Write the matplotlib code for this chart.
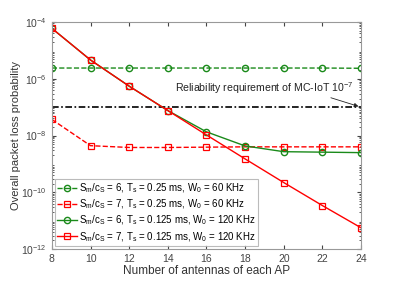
import numpy as np
import matplotlib
matplotlib.use('Agg')
import matplotlib.pyplot as plt

# 数据
antennas = [8, 10, 12, 14, 16, 18, 20, 22, 24]
loss_6_025 = [2.4e-6, 2.4e-6, 2.4e-6, 2.4e-6, 2.4e-6, 2.4e-6, 2.4e-6, 2.4e-6, 2.35e-6]
loss_7_025 = [3.7e-8, 4.4e-9, 3.8e-9, 3.8e-9, 3.9e-9, 4.0e-9, 4.0e-9, 4.0e-9, 4.0e-9]
loss_6_0125 = [6.0e-5, 4.6e-6, 5.5e-7, 7.6e-8, 1.35e-8, 4.3e-9, 2.7e-9, 2.6e-9, 2.5e-9]
loss_7_0125 = [6.0e-5, 4.6e-6, 5.5e-7, 7.6e-8, 1.05e-8, 1.5e-9, 2.2e-10, 3.4e-11, 5.6e-12]
requirement = 1e-7
labels = [
    r'$\mathregular{S_m/c_S}$ = 6, $\mathregular{T_s}$ = 0.25 ms, $\mathregular{W_0}$ = 60 KHz',
    r'$\mathregular{S_m/c_S}$ = 7, $\mathregular{T_s}$ = 0.25 ms, $\mathregular{W_0}$ = 60 KHz',
    r'$\mathregular{S_m/c_S}$ = 6, $\mathregular{T_s}$ = 0.125 ms, $\mathregular{W_0}$ = 120 KHz',
    r'$\mathregular{S_m/c_S}$ = 7, $\mathregular{T_s}$ = 0.125 ms, $\mathregular{W_0}$ = 120 KHz',
]

plt.rcParams['font.family'] = ['Liberation Sans', 'DejaVu Sans']
green = '#1a8a1a'
red = '#ff0000'

fig = plt.figure(figsize=(3.99, 2.83), dpi=100)
ax = fig.add_axes([0.130, 0.12, 0.775, 0.802])

ax.plot(antennas, [requirement] * len(antennas), color='black', linestyle=(0, (4, 1.5, 1, 1.5)), linewidth=1.2)
ax.plot(antennas, loss_6_025, color=green, linestyle='--', marker='o', markersize=4.5,
        markerfacecolor='none', markeredgewidth=1.0, linewidth=1.0, label=labels[0])
ax.plot(antennas, loss_7_025, color=red, linestyle='--', marker='s', markersize=4.5,
        markerfacecolor='none', markeredgewidth=0.9, linewidth=1.0, label=labels[1])
ax.plot(antennas, loss_6_0125, color=green, linestyle='-', marker='o', markersize=4.5,
        markerfacecolor='none', markeredgewidth=1.0, linewidth=1.0, label=labels[2])
ax.plot(antennas, loss_7_0125, color=red, linestyle='-', marker='s', markersize=4.5,
        markerfacecolor='none', markeredgewidth=0.9, linewidth=1.0, label=labels[3])

ax.set_yscale('log')
ax.set_xlim(8, 24)
ax.set_ylim(1e-12, 1e-4)
ax.set_xticks(range(8, 25, 2))
ax.set_yticks([1e-12, 1e-10, 1e-8, 1e-6, 1e-4])
ax.yaxis.set_minor_locator(matplotlib.ticker.LogLocator(base=10, subs=np.arange(2, 10), numticks=20))
ax.yaxis.set_minor_formatter(matplotlib.ticker.NullFormatter())
ax.tick_params(which='both', direction='in', top=True, right=True, colors='#444444', labelsize=7.5)
ax.tick_params(which='major', length=3)
ax.tick_params(which='minor', length=1.5)
for s in ax.spines.values():
    s.set_color('#999999')
    s.set_linewidth(0.8)

ax.set_xlabel('Number of antennas of each AP', fontsize=8.5, color='#333333', labelpad=1)
ax.set_ylabel('Overall packet loss probability', fontsize=8, color='#333333', labelpad=0)

ax.annotate(r'Reliability requirement of MC-IoT 10$^{\mathregular{-7}}$',
            xy=(24, requirement), xytext=(14.37, 4.8e-7),
            fontsize=7.6, color='#222222', ha='left', va='center')
ax.annotate('', xy=(24, requirement), xytext=(22.3, 2.3e-7),
            arrowprops=dict(arrowstyle='-|>', color='#222222', lw=0.6, mutation_scale=6))

leg = ax.legend(loc='lower left', fontsize=7.0, handlelength=2.0, handletextpad=0.2,
                borderpad=0.25, labelspacing=0.28, borderaxespad=0.3, fancybox=False)
leg.get_frame().set_edgecolor('#aaaaaa')
leg.get_frame().set_linewidth(0.8)

plt.savefig('out.png', dpi=100)
